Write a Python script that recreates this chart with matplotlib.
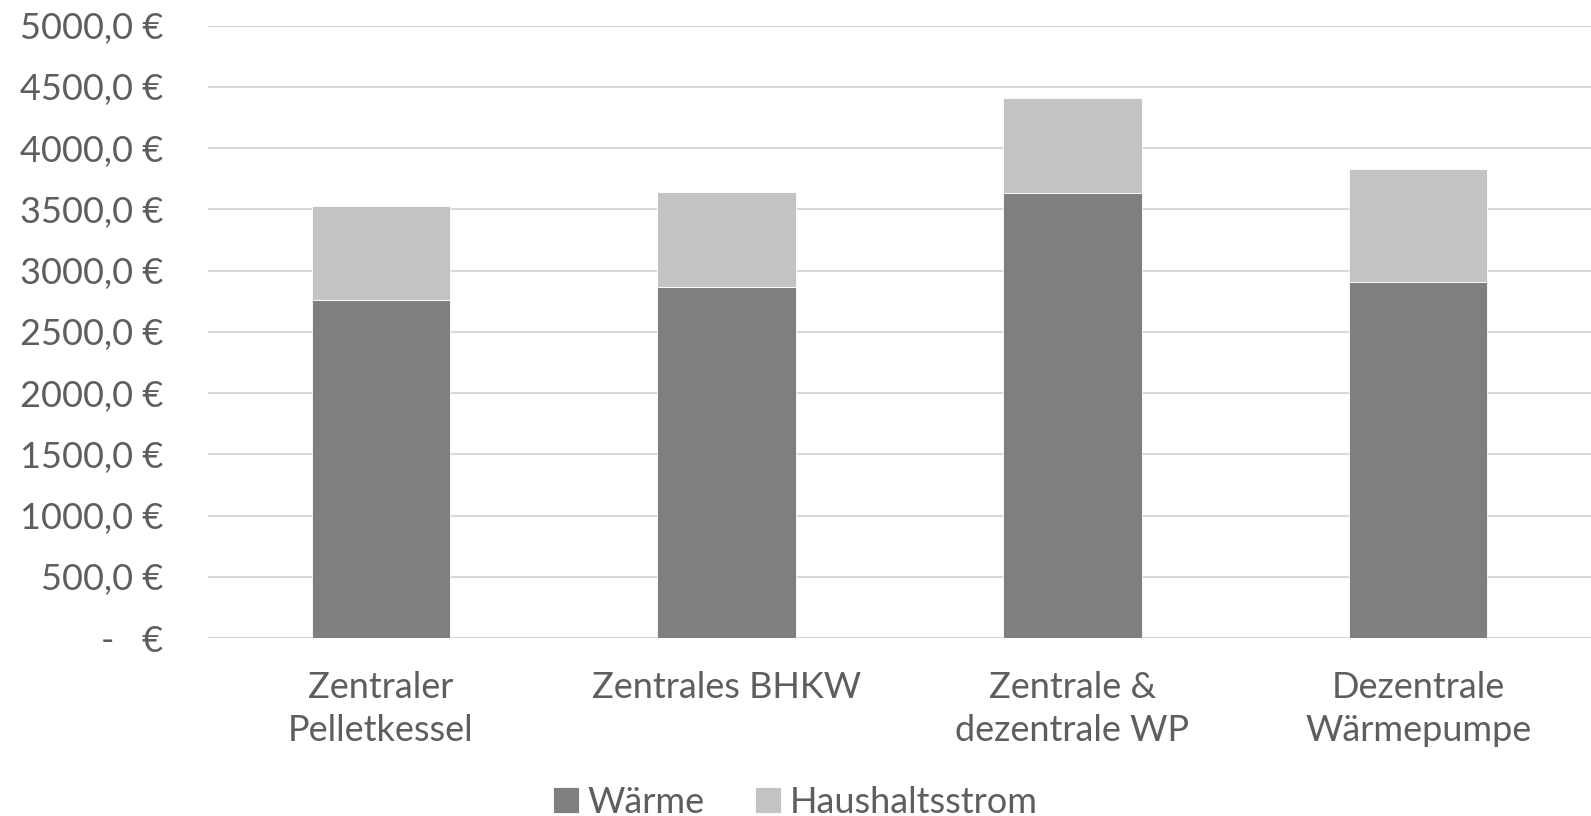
import matplotlib
matplotlib.use('Agg')
import matplotlib.pyplot as plt
from matplotlib.ticker import FuncFormatter, MultipleLocator

plt.rcParams['font.family'] = ['Lato', 'DejaVu Sans']

# Daten
kategorien = ['Zentraler\nPelletkessel', 'Zentrales BHKW', 'Zentrale &\ndezentrale WP', 'Dezentrale\nWärmepumpe']
waerme = [2757, 2869, 3636, 2910]
haushaltsstrom = [771, 771, 771, 917]

textfarbe = '#5e5e5e'

fig = plt.figure(figsize=(15.91, 8.16), dpi=100)
ax = fig.add_axes([0.1307, 0.2181, 0.8693, 0.7504])

x = range(len(kategorien))
ax.bar(x, waerme, width=0.40, color='#7f7f7f', edgecolor='white', linewidth=0.6, label='Wärme', zorder=3)
ax.bar(x, haushaltsstrom, width=0.40, bottom=waerme, color='#c3c2c4', edgecolor='white', linewidth=0.6,
       label='Haushaltsstrom', zorder=3)

ax.set_ylim(0, 5000)
ax.set_xlim(-0.5, 3.5)
ax.yaxis.set_major_locator(MultipleLocator(500))


def euro(v, pos):
    if v == 0:
        return '-   €'
    return f'{v:.1f}'.replace('.', ',') + ' €'


ax.yaxis.set_major_formatter(FuncFormatter(euro))
ax.set_xticks(list(x))
ax.set_xticklabels(kategorien, fontsize=26, color=textfarbe, linespacing=1.35)
ax.tick_params(axis='y', length=0, pad=32, labelsize=26, labelcolor=textfarbe)
ax.tick_params(axis='x', length=0, pad=24)

ax.grid(axis='y', color='#d9d9d9', linewidth=1.5, zorder=0)
for s in ax.spines.values():
    s.set_visible(False)

ax.legend(loc='center', bbox_to_anchor=(0.5, 0.017), bbox_transform=fig.transFigure, ncol=2, frameon=False,
          fontsize=26, labelcolor=textfarbe, handlelength=0.7, handleheight=0.7, handletextpad=0.25,
          columnspacing=1.4)

plt.savefig('out.png', dpi=100)
